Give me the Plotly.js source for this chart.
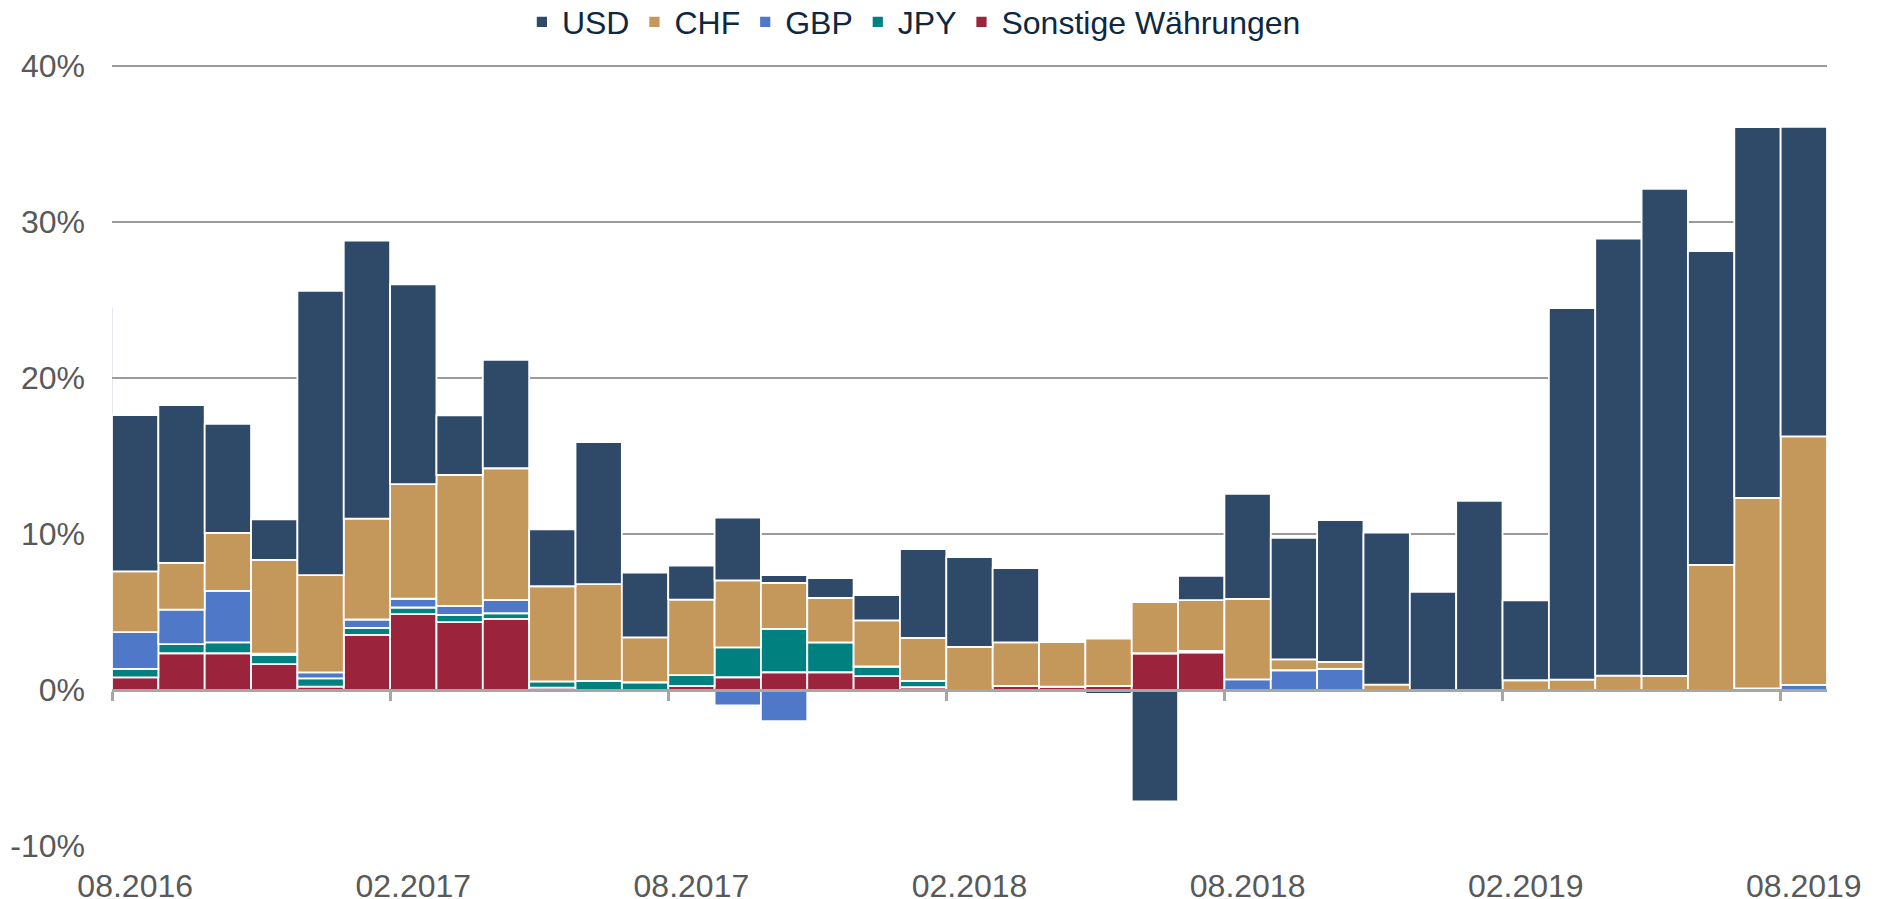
<!DOCTYPE html>
<html>
<head>
<meta charset="utf-8">
<script src="https://cdn.plot.ly/plotly-3.0.1.min.js"></script>
<style>html,body{margin:0;padding:0;background:#fff;}#chart{width:1882px;height:899px;}</style>
</head>
<body>
<div id="chart"></div>
<script>
const months = ["08.2016","09.2016","10.2016","11.2016","12.2016","01.2017","02.2017","03.2017","04.2017","05.2017","06.2017","07.2017","08.2017","09.2017","10.2017","11.2017","12.2017","01.2018","02.2018","03.2018","04.2018","05.2018","06.2018","07.2018","08.2018","09.2018","10.2018","11.2018","12.2018","01.2019","02.2019","03.2019","04.2019","05.2019","06.2019","07.2019","08.2019"];

const sonstige = [0.8,2.35,2.35,1.65,0.21,3.53,4.85,4.34,4.55,0.15,0,0,0.25,0.81,1.13,1.13,0.88,0.17,0,0.26,0.21,0.26,2.35,2.4,0,0,0,0,0,0,0,0,0,0,0,0,0];
const jpy      = [0.55,0.58,0.7,0.58,0.53,0.45,0.43,0.47,0.36,0.4,0.58,0.49,0.7,1.92,2.78,1.92,0.62,0.41,0,0,0,0,0,0,0,0,0,0,0,0,0,0,0,0,0,0,0];
const gbp      = [2.35,2.22,3.29,0.1,0.38,0.53,0.56,0.58,0.85,0,0,0,0,-1.0,-2.0,0,0,0,0,0,0,0,0,0.1,0.68,1.26,1.35,0,0,0,0,0,0,0,0,0.1,0.32];
const chf      = [3.9,2.99,3.72,6.0,6.24,6.47,7.35,8.38,8.44,6.09,6.2,2.88,4.83,4.29,2.95,2.84,2.95,2.76,2.76,2.78,2.86,3.03,3.27,3.25,5.15,0.7,0.45,0.34,0,0,0.62,0.66,0.92,0.9,8.01,12.2,15.92];
const usd      = [10.0,10.1,6.99,2.59,18.2,17.8,12.8,3.82,6.94,3.65,9.1,4.15,2.18,4.02,0.49,1.28,1.62,5.68,5.75,4.76,0,-0.25,-7.15,1.55,6.73,7.78,9.08,9.74,6.28,12.12,5.11,23.8,28.0,31.2,20.11,23.75,19.83];

const tickMonths = ["08.2016","02.2017","08.2017","02.2018","08.2018","02.2019","08.2019"];
const yTicks = [-10,0,10,20,30,40];

const series = [
  {name:"Sonstige Währungen", values:sonstige, color:"#9B233C"},
  {name:"JPY", values:jpy, color:"#00807E"},
  {name:"GBP", values:gbp, color:"#5078C8"},
  {name:"CHF", values:chf, color:"#C4975B"},
  {name:"USD", values:usd, color:"#2F4A68"}
];

const xIdx = months.map((m,i)=>i);
const traces = series.map(s => ({
  type:"bar", name:s.name, x:xIdx, y:s.values,
  marker:{color:s.color, line:{color:"#ffffff", width:1.8}},
  hoverinfo:"name+y"
}));
traces.push({type:"scatter", mode:"lines", x:[-0.5,36.5], y:[null,null], xaxis:"x2", yaxis:"y", showlegend:false, hoverinfo:"skip"});

const tickPos = tickMonths.map(t => months.indexOf(t));
const edgePos = tickPos.map(p => p - 0.5);

const layout = {
  width:1882, height:899,
  margin:{l:112, r:55, t:64, b:53, autoexpand:false},
  paper_bgcolor:"#ffffff", plot_bgcolor:"#ffffff",
  font:{family:"Liberation Sans, Arial, sans-serif", color:"#595959"},
  barmode:"relative", bargap:0,
  showlegend:true,
  legend:{orientation:"h", traceorder:"reversed", x:0.239, xanchor:"left", y:1.0887, yanchor:"top",
          font:{size:32, color:"#0E2841", family:"Liberation Sans, Arial, sans-serif"}, itemclick:false},
  xaxis:{range:[-0.5,36.5], tickmode:"array", tickvals:tickPos, ticktext:tickMonths, showgrid:false, zeroline:false,
         showline:false, ticks:"", tickfont:{size:32, color:"#595959"}, ticklabelstandoff:18, fixedrange:true},
  xaxis2:{overlaying:"x", anchor:"free", position:10/50.1, range:[-0.5,36.5], tickmode:"array", tickvals:edgePos,
          showticklabels:false, showgrid:false, zeroline:false, showline:true, linecolor:"#A6A6A6", linewidth:3,
          ticks:"outside", ticklen:9, tickwidth:3, tickcolor:"#A6A6A6"},
  yaxis:{range:[-10,40.1], tickmode:"array", tickvals:yTicks, ticktext:yTicks.map(v=>v+"%"), showgrid:true,
         gridcolor:"#9A9A9A", gridwidth:2, zeroline:false, showline:false, ticks:"",
         tickfont:{size:32, color:"#595959"}, ticklabelstandoff:26},
  shapes:[{type:"line", layer:"below", xref:"x", yref:"y", x0:-0.5, x1:-0.5, y0:0, y1:24.5, line:{color:"#C8D2DE", width:1}}]
};

Plotly.newPlot("chart", traces, layout, {displayModeBar:false, staticPlot:true});
</script>
</body>
</html>
